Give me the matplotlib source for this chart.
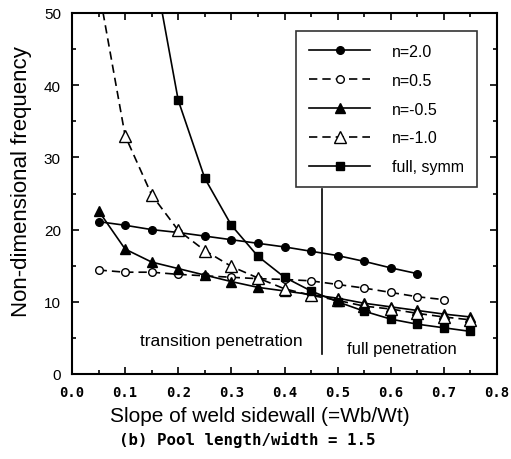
import matplotlib
matplotlib.use("Agg")
import matplotlib.pyplot as plt
from matplotlib.ticker import MultipleLocator

x_n20 = [0.05, 0.10, 0.15, 0.20, 0.25, 0.30, 0.35, 0.40, 0.45, 0.50, 0.55, 0.60, 0.65]
y_n20 = [21.1, 20.6, 20.0, 19.6, 19.1, 18.6, 18.1, 17.6, 17.0, 16.4, 15.6, 14.7, 13.9]

x_n05 = [0.05, 0.10, 0.15, 0.20, 0.25, 0.30, 0.35, 0.40, 0.45, 0.50, 0.55, 0.60, 0.65, 0.70]
y_n05 = [14.4, 14.1, 14.1, 13.8, 13.6, 13.4, 13.2, 13.1, 12.9, 12.4, 11.9, 11.3, 10.7, 10.3]

x_nm05 = [0.05, 0.10, 0.15, 0.20, 0.25, 0.30, 0.35, 0.40, 0.45, 0.50, 0.55, 0.60, 0.65, 0.70, 0.75]
y_nm05 = [22.6, 17.3, 15.5, 14.6, 13.7, 12.8, 12.0, 11.5, 11.0, 10.5, 9.8, 9.3, 8.8, 8.3, 7.9]

x_nm10 = [0.05, 0.10, 0.15, 0.20, 0.25, 0.30, 0.35, 0.40, 0.45, 0.50, 0.55, 0.60, 0.65, 0.70, 0.75]
y_nm10 = [53.5, 33.0, 24.8, 19.9, 17.1, 14.9, 13.3, 11.8, 10.9, 10.2, 9.4, 9.0, 8.4, 7.9, 7.5]

x_full = [0.15, 0.20, 0.25, 0.30, 0.35, 0.40, 0.45, 0.50, 0.55, 0.60, 0.65, 0.70, 0.75]
y_full = [58.0, 37.9, 27.1, 20.6, 16.3, 13.4, 11.5, 10.0, 8.7, 7.6, 6.9, 6.4, 5.9]

labels = ["n=2.0", "n=0.5", "n=-0.5", "n=-1.0", "full, symm"]
xticks = [0.0, 0.1, 0.2, 0.3, 0.4, 0.5, 0.6, 0.7, 0.8]

plt.rcParams['font.family'] = ['Liberation Sans', 'DejaVu Sans']

fig = plt.figure(figsize=(5.11, 4.60), dpi=100)
ax = fig.add_axes([72/511, 1-375/460, (497-72)/511, (375-14)/460])

kw = dict(color='black', lw=1.2, markersize=5.5)
ax.plot(x_n20, y_n20, '-', marker='o', mfc='black', label=labels[0], **kw)
ax.plot(x_n05, y_n05, '--', marker='o', mfc='white', label=labels[1], dashes=(5, 3), **kw)
ax.plot(x_nm05, y_nm05, '-', marker='^', mfc='black', label=labels[2], color='black', lw=1.2, markersize=7)
ax.plot(x_nm10, y_nm10, '--', marker='^', mfc='white', label=labels[3], dashes=(5, 3),
        markersize=8, color='black', lw=1.2)
ax.plot(x_full, y_full, '-', marker='s', mfc='black', label=labels[4], **kw)

ax.plot([0.471, 0.471], [2.8, 25.6], color='black', lw=1.2)
ax.text(0.128, 4.6, "transition penetration", fontsize=12.5, ha='left', va='center')
ax.text(0.518, 3.5, "full penetration", fontsize=12, ha='left', va='center')

ax.set_xlim(0, 0.8)
ax.set_ylim(0, 50)
ax.set_xticks(xticks)
ax.set_xticklabels([f"{v:.1f}" for v in xticks], family='DejaVu Sans Mono',
                   fontweight='bold', fontsize=10)
ax.xaxis.set_minor_locator(MultipleLocator(0.05))
ax.yaxis.set_major_locator(MultipleLocator(10))
ax.yaxis.set_minor_locator(MultipleLocator(5))
ax.tick_params(which='both', direction='in', top=True, right=True, width=1.2)
ax.tick_params(which='major', length=5)
ax.tick_params(which='minor', length=3)
ax.tick_params(axis='x', which='major', pad=8)
ax.tick_params(axis='y', which='major', labelsize=11, pad=8)
for s in ax.spines.values():
    s.set_linewidth(1.5)

ax.set_xlabel("Slope of weld sidewall (=Wb/Wt)", fontsize=15)
ax.xaxis.set_label_coords(0.442, -0.088)
ax.set_ylabel("Non-dimensional frequency", fontsize=16)
ax.yaxis.set_label_coords(-0.095, 0.535)

leg = ax.legend(loc='upper right', bbox_to_anchor=((477-72)/425, 1-(32-14)/361),
                borderaxespad=0, fontsize=11.5, frameon=True, fancybox=False,
                edgecolor='black', handlelength=3.8, labelspacing=0.87,
                borderpad=0.8, handletextpad=1.4)
leg.get_frame().set_linewidth(1.2)

fig.text(247/511, 1-440/460, "(b) Pool length/width = 1.5", family='DejaVu Sans Mono',
         fontweight='bold', fontsize=11.3, ha='center', va='center')

fig.savefig("out.png", dpi=100)
